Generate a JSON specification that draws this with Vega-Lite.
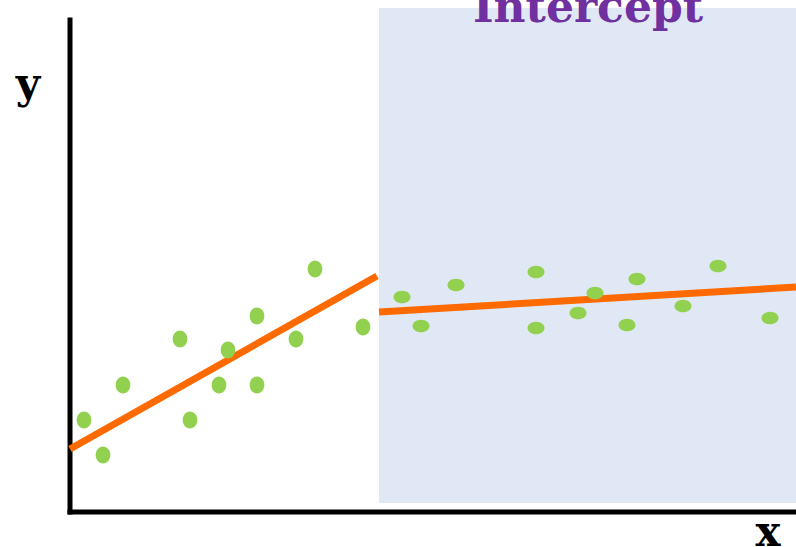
{
  "$schema": "https://vega.github.io/schema/vega-lite/v6.json",
  "width": 796,
  "height": 547,
  "autosize": {"type": "none"},
  "padding": 0,
  "background": "white",
  "config": {"view": {"stroke": null}},
  "datasets": {
    "points": [
      {"x": 14, "y": 92, "grp": "a"}, {"x": 33, "y": 57, "grp": "a"}, {"x": 53, "y": 127, "grp": "a"},
      {"x": 110, "y": 173, "grp": "a"}, {"x": 120, "y": 92, "grp": "a"}, {"x": 149, "y": 127, "grp": "a"},
      {"x": 158, "y": 162, "grp": "a"}, {"x": 187, "y": 196, "grp": "a"}, {"x": 187, "y": 127, "grp": "a"},
      {"x": 226, "y": 173, "grp": "a"}, {"x": 245, "y": 243, "grp": "a"}, {"x": 293, "y": 185, "grp": "a"},
      {"x": 332, "y": 215, "grp": "b"}, {"x": 351, "y": 186, "grp": "b"}, {"x": 386, "y": 227, "grp": "b"},
      {"x": 466, "y": 240, "grp": "b"}, {"x": 466, "y": 184, "grp": "b"}, {"x": 525, "y": 219, "grp": "b"},
      {"x": 508, "y": 199, "grp": "b"}, {"x": 567, "y": 233, "grp": "b"}, {"x": 557, "y": 187, "grp": "b"},
      {"x": 613, "y": 206, "grp": "b"}, {"x": 648, "y": 246, "grp": "b"}, {"x": 700, "y": 194, "grp": "b"}
    ],
    "fits": [
      {"x": 0, "y": 63, "seg": "left"}, {"x": 307, "y": 236, "seg": "left"},
      {"x": 309, "y": 200, "seg": "right"}, {"x": 726, "y": 225, "seg": "right"}
    ],
    "region": [{"x": 309, "x2": 726, "y": 9, "y2": 504}],
    "axes": [
      {"x": 0, "x2": 0, "y": 0, "y2": 492},
      {"x": 0, "x2": 726, "y": 0, "y2": 0}
    ]
  },
  "layer": [
    {
      "data": {"name": "region"},
      "mark": {"type": "rect", "color": "#E1E8F5"},
      "encoding": {
        "x": {"field": "x", "type": "quantitative", "scale": {"domain": [-70, 726], "nice": false, "zero": false}, "axis": null},
        "x2": {"field": "x2"},
        "y": {"field": "y", "type": "quantitative", "scale": {"domain": [-35, 512], "nice": false, "zero": false}, "axis": null},
        "y2": {"field": "y2"}
      }
    },
    {
      "data": {"name": "axes"},
      "mark": {"type": "rule", "color": "black", "strokeWidth": 5, "strokeCap": "square"},
      "encoding": {
        "x": {"field": "x", "type": "quantitative", "scale": {"domain": [-70, 726], "nice": false, "zero": false}, "axis": null},
        "x2": {"field": "x2"},
        "y": {"field": "y", "type": "quantitative", "scale": {"domain": [-35, 512], "nice": false, "zero": false}, "axis": null},
        "y2": {"field": "y2"}
      }
    },
    {
      "data": {"name": "fits"},
      "mark": {"type": "line", "color": "#FF6A00", "strokeWidth": 7, "strokeCap": "butt"},
      "encoding": {
        "x": {"field": "x", "type": "quantitative", "scale": {"domain": [-70, 726], "nice": false, "zero": false}, "axis": null},
        "y": {"field": "y", "type": "quantitative", "scale": {"domain": [-35, 512], "nice": false, "zero": false}, "axis": null},
        "detail": {"field": "seg", "type": "nominal"}
      }
    },
    {
      "data": {"name": "points"},
      "mark": {"type": "point", "filled": true, "opacity": 1, "color": "#92D050", "size": 240},
      "encoding": {
        "x": {"field": "x", "type": "quantitative", "scale": {"domain": [-70, 726], "nice": false, "zero": false}, "axis": null},
        "y": {"field": "y", "type": "quantitative", "scale": {"domain": [-35, 512], "nice": false, "zero": false}, "axis": null},
        "shape": {
          "field": "grp", "type": "nominal", "legend": null,
          "scale": {"domain": ["a", "b"], "range": [
            "M-0.95,0 A0.95,1.1 0 1,0 0.95,0 A0.95,1.1 0 1,0 -0.95,0 Z",
            "M-1.1,0 A1.1,0.82 0 1,0 1.1,0 A1.1,0.82 0 1,0 -1.1,0 Z"
          ]}
        }
      }
    },
    {
      "data": {"values": [{"x": 518, "y": 490, "label": "Intercept"}]},
      "mark": {"type": "text", "font": "DejaVu Serif", "fontWeight": "bold", "fontSize": 44, "color": "#7030A0", "align": "center", "baseline": "alphabetic"},
      "encoding": {
        "x": {"field": "x", "type": "quantitative", "scale": {"domain": [-70, 726], "nice": false, "zero": false}, "axis": null},
        "y": {"field": "y", "type": "quantitative", "scale": {"domain": [-35, 512], "nice": false, "zero": false}, "axis": null},
        "text": {"field": "label"}
      }
    },
    {
      "data": {"values": [{"x": -42, "y": 414, "label": "y"}, {"x": 698, "y": -34, "label": "x"}]},
      "mark": {"type": "text", "font": "DejaVu Serif", "fontWeight": "bold", "fontSize": 42, "color": "black", "align": "center", "baseline": "alphabetic"},
      "encoding": {
        "x": {"field": "x", "type": "quantitative", "scale": {"domain": [-70, 726], "nice": false, "zero": false}, "axis": null},
        "y": {"field": "y", "type": "quantitative", "scale": {"domain": [-35, 512], "nice": false, "zero": false}, "axis": null},
        "text": {"field": "label"}
      }
    }
  ]
}
